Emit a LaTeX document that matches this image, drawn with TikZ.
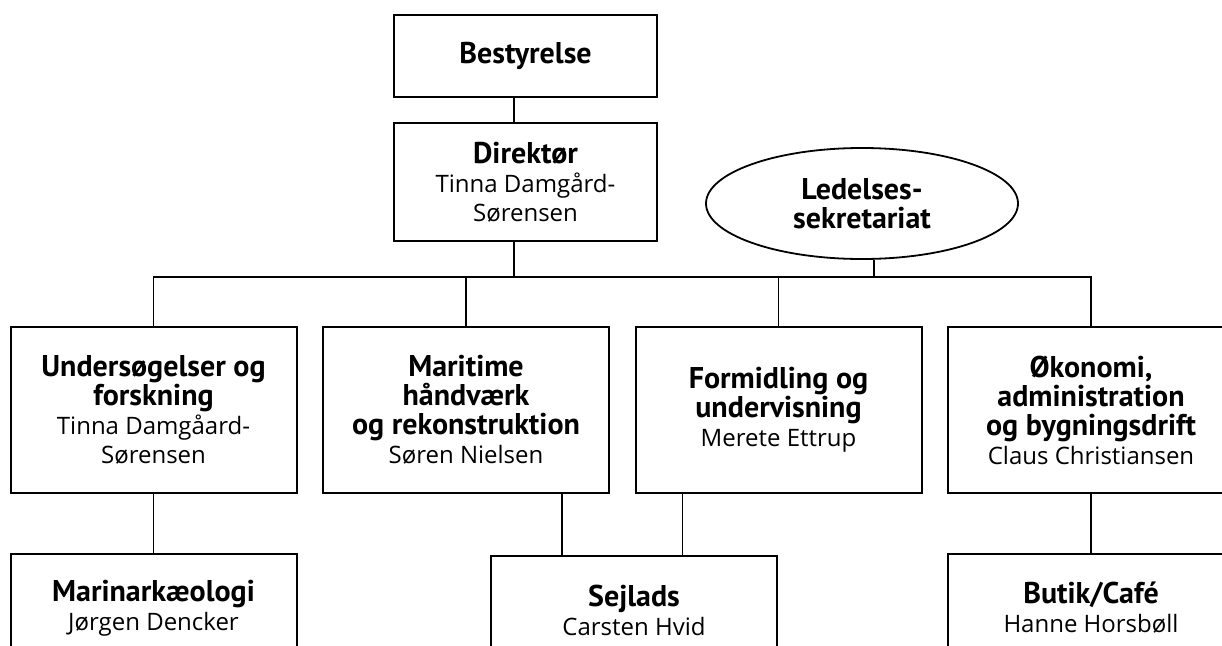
\documentclass[tikz,border=0pt]{standalone}
\usepackage{fontspec}
\setmainfont{PT Sans}
\newfontfamily\namefont{Open Sans}
\usetikzlibrary{positioning, shapes.geometric}

\newcommand{\titlefont}{\normalfont\fontsize{30}{29}\selectfont\bfseries}

\begin{document}
\begin{tikzpicture}[x=1pt, y=-1pt,
    every node/.style={align=center, inner sep=0pt, font=\namefont\fontsize{24}{29}\selectfont},
    box/.style={draw, line width=2pt, minimum width=286pt, minimum height=166pt},
    topbox/.style={draw, line width=2pt, minimum width=263pt},
    link/.style={line width=1.5pt}]
    \useasboundingbox (0,0) rectangle (1222,645);
    \clip (0,0) rectangle (1222,645);

    \node (bestyrelse)  [topbox, minimum height=82pt]            at (525.5,56) {\titlefont Bestyrelse};
    \node (direktoer)   [topbox, minimum height=118pt, below=24pt of bestyrelse]
        {{\titlefont Direktør}\\ Tinna Damgård-\\ Sørensen};
    \node (sekretariat) [draw, ellipse, line width=1.8pt, minimum width=312pt, minimum height=111pt]
        at (862,203.5) {{\titlefont Ledelses-}\\ {\titlefont sekretariat}};

    \coordinate (hub)    at (514,277);
    \coordinate (sekhub) at (874,277);

    \node (undersoeg)  [box] at (153.5,410) {{\titlefont Undersøgelser og}\\ {\titlefont forskning}\\ Tinna Damgåard-\\ Sørensen};
    \node (maritime)   [box, right=24.5pt of undersoeg] {{\titlefont Maritime}\\ {\titlefont håndværk}\\ {\titlefont og rekonstruktion}\\ Søren Nielsen};
    \node (formidling) [box, right=24.5pt of maritime]  {{\titlefont Formidling og}\\ {\titlefont undervisning}\\ Merete Ettrup};
    \node (oekonomi)   [box, right=24.5pt of formidling] {{\titlefont Økonomi,}\\ {\titlefont administration}\\ {\titlefont og bygningsdrift}\\ Claus Christiansen};

    \node (marin)   [box, minimum height=108pt, below=59pt of undersoeg] {{\titlefont Marinarkæologi}\\ Jørgen Dencker};
    \node (sejlads) [box, minimum height=108pt] at (634,610) {{\titlefont Sejlads}\\ Carsten Hvid};
    \node (butik)   [box, minimum height=108pt, below=59pt of oekonomi] {{\titlefont Butik/Café}\\ Hanne Horsbøll};

    \draw[link] (bestyrelse.south -| hub) -- (direktoer.north -| hub);
    \draw[link] (direktoer.south -| hub)  -- (hub);
    \draw[link] (sekretariat.south -| sekhub) -- (sekhub);

    \draw[link] (undersoeg.north) -- (undersoeg.north |- hub) -- (oekonomi.north |- hub) -- (oekonomi.north);
    \draw[link] (maritime.north)   -- (maritime.north |- hub);
    \draw[link] (formidling.north) -- (formidling.north |- hub);

    \draw[link] (undersoeg.south) -- (marin.north);
    \draw[link] (oekonomi.south)  -- (butik.north);
    \draw[link] ([xshift=96pt]maritime.south)    -- ([xshift=96pt]maritime.south |- sejlads.north);
    \draw[link] ([xshift=-96pt]formidling.south) -- ([xshift=-96pt]formidling.south |- sejlads.north);
\end{tikzpicture}
\end{document}
